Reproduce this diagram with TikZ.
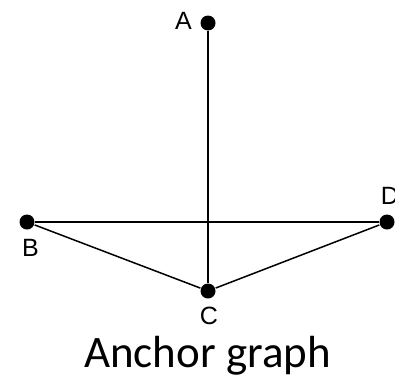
\documentclass[tikz,border=0pt]{standalone}
\usepackage{fontspec}
\setmainfont{Liberation Sans}
\newfontfamily\titlefont{Carlito}
\tikzset{
  every picture/.style={line width=1.5pt},
  vertex/.style={circle, fill=black, inner sep=0pt, minimum size=15pt},
  tag/.style={font=\fontsize{25}{25}\selectfont, inner sep=0pt},
  title/.style={font=\titlefont\fontsize{45}{45}\selectfont, inner sep=0pt, anchor=base},
}
\begin{document}
\begin{tikzpicture}[x=1pt, y=-1pt]
  \useasboundingbox (0,0) rectangle (395,380);
  % anchor points
  \node[vertex] (A) at (208,23) {};
  \node[vertex] (B) at (27,222) {};
  \node[vertex] (C) at (208,291) {};
  \node[vertex] (D) at (387,222) {};
  \node[tag] (la) at (183.5,20.5) {A};
  \node[tag] (lb) at (30.5,247.5) {B};
  \node[tag] (lc) at (209,316) {C};
  \node[tag] (ld) at (390,196) {D};
  % edges
  \draw (A) -- (C);
  \draw (B) -- (D);
  \draw (B) -- (C) -- (D);
  \node[title] (cap) at (207.5,367) {Anchor graph};
\end{tikzpicture}
\end{document}
